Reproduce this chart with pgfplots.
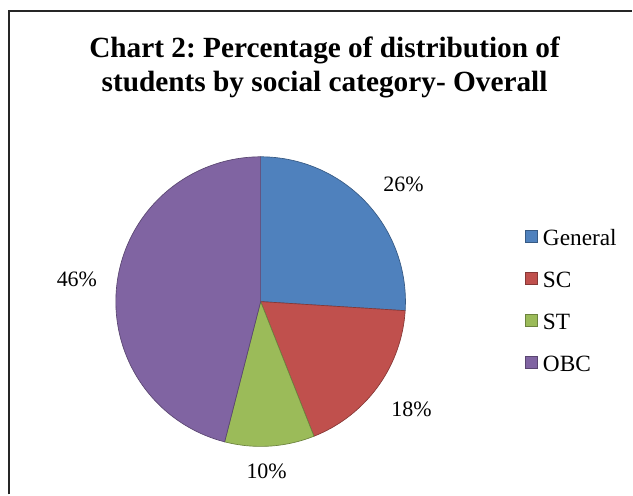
\documentclass[border=0pt]{standalone}
\usepackage{pgfplots}
\pgfplotsset{compat=1.18}
\usepackage{fontspec}
\setmainfont{Liberation Serif}
\frenchspacing
\definecolor{cGen}{HTML}{4F81BD}
\definecolor{cSC}{HTML}{C0504D}
\definecolor{cST}{HTML}{9BBB59}
\definecolor{cOBC}{HTML}{8064A2}
% data (percent)
\def\vGen{26}
\def\vSC{18}
\def\vST{10}
\def\vOBC{46}
\begin{document}
\begin{tikzpicture}
\begin{axis}[
  width=474.75pt, height=371.25pt, scale only axis,
  xmin=0, xmax=633, ymin=0, ymax=495, y dir=reverse,
  hide axis, clip=false,
  legend style={at={(axis cs:525,229)}, anchor=north west, draw=none, fill=none,
    font=\fontsize{17.5}{20}\selectfont, row sep=19pt, inner sep=0pt,
    nodes={inner sep=0pt, text height=12.5pt, text depth=0pt},
    /tikz/every odd column/.append style={column sep=4.5pt}},
  legend cell align=left,
  legend image code/.code={\filldraw[#1, line width=0.3pt] (0pt,-4pt) rectangle (9pt,5pt);},
]
\path (axis cs:0,0) rectangle (axis cs:633,495);
% pie slices: start at 12 o'clock, clockwise
\addplot[fill=cGen, draw=cGen!70!black, line width=0.5pt, domain=90:{90-3.6*\vGen}, samples=80, variable=\t]
  ({261+145*cos(t)}, {302-145*sin(t)}) -- (axis cs:261,302) -- cycle;
\addlegendentry{General}
\addplot[fill=cSC, draw=cSC!70!black, line width=0.5pt, domain={90-3.6*\vGen}:{90-3.6*(\vGen+\vSC)}, samples=60, variable=\t]
  ({261+145*cos(t)}, {302-145*sin(t)}) -- (axis cs:261,302) -- cycle;
\addlegendentry{SC}
\addplot[fill=cST, draw=cST!70!black, line width=0.5pt, domain={90-3.6*(\vGen+\vSC)}:{90-3.6*(\vGen+\vSC+\vST)}, samples=40, variable=\t]
  ({261+145*cos(t)}, {302-145*sin(t)}) -- (axis cs:261,302) -- cycle;
\addlegendentry{ST}
\addplot[fill=cOBC, draw=cOBC!70!black, line width=0.5pt, domain={90-3.6*(\vGen+\vSC+\vST)}:-270, samples=120, variable=\t]
  ({261+145*cos(t)}, {302-145*sin(t)}) -- (axis cs:261,302) -- cycle;
\addlegendentry{OBC}
% frame (top and left visible)
\draw[line width=1.3pt, black!85] (axis cs:9,495) -- (axis cs:9,11) -- (axis cs:633,11);
% title
\node[anchor=base, font=\fontsize{22}{25}\selectfont\bfseries] at (axis cs:325,58) {Chart 2: Percentage of distribution of};
\node[anchor=base, font=\fontsize{22}{25}\selectfont\bfseries] at (axis cs:325,92) {students by social category- Overall};
% data labels
\node[anchor=base, font=\fontsize{16.5}{19}\selectfont] at (axis cs:404,192) {\vGen\%};
\node[anchor=base, font=\fontsize{16.5}{19}\selectfont] at (axis cs:412,417) {\vSC\%};
\node[anchor=base, font=\fontsize{16.5}{19}\selectfont] at (axis cs:267,479) {\vST\%};
\node[anchor=base, font=\fontsize{16.5}{19}\selectfont] at (axis cs:77,287) {\vOBC\%};
\end{axis}
\end{tikzpicture}
\end{document}
